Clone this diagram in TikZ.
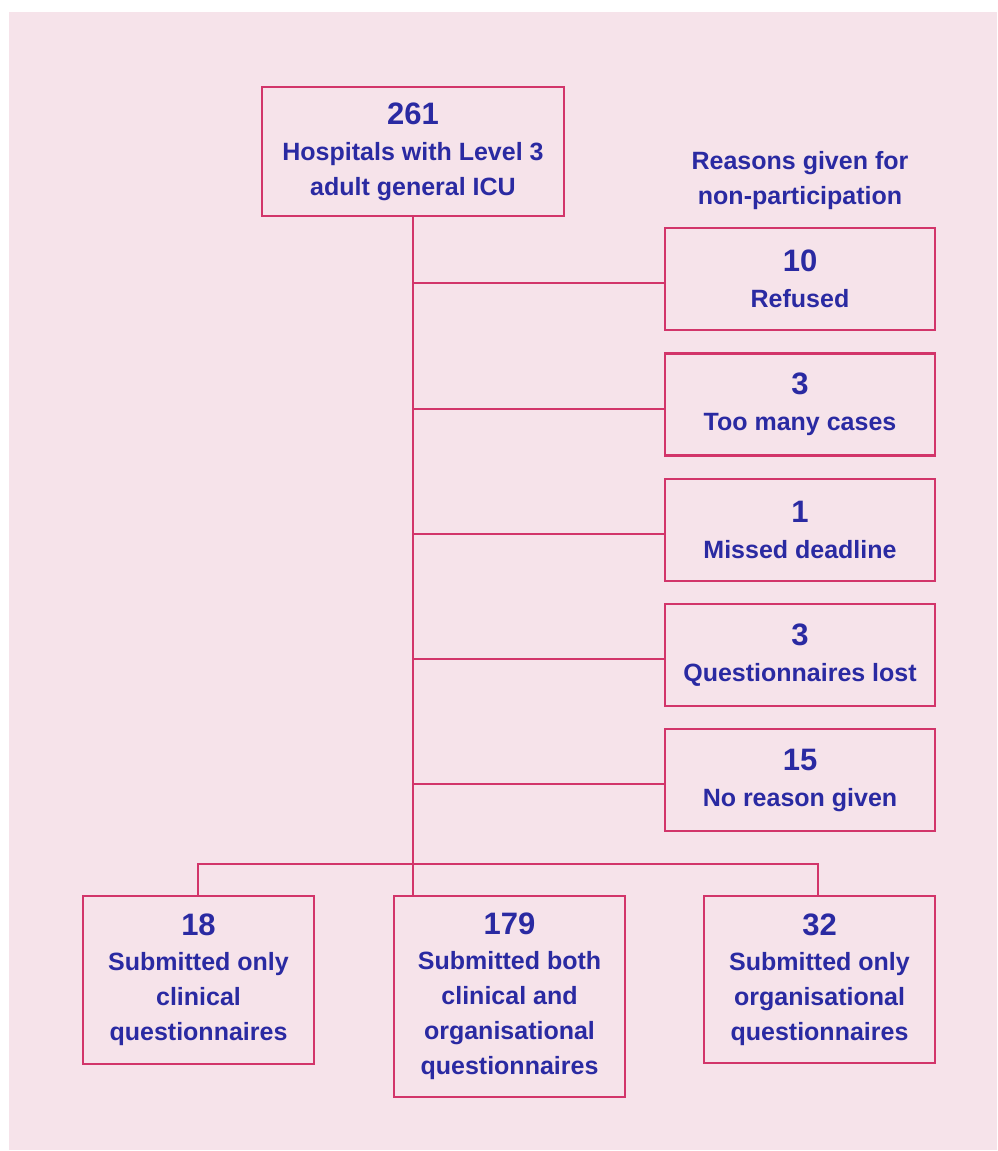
\documentclass[tikz,border=0pt]{standalone}
\usepackage{fontspec}
\setmainfont{Liberation Sans}
\definecolor{bgpink}{HTML}{F6E3EA}
\definecolor{linered}{HTML}{D2356A}
\definecolor{txtblue}{HTML}{2A2AA2}
\newcommand{\numfont}{\fontsize{31}{34}\selectfont}
\begin{document}
\begin{tikzpicture}[x=1pt,y=-1pt,
  box/.style={draw=linered,line width=2.2pt,fill=bgpink,align=center,
    text=txtblue,font=\fontsize{25}{35}\selectfont\bfseries,inner sep=0pt},
  conn/.style={draw=linered,line width=2pt},
  hdr/.style={align=center,text=txtblue,font=\fontsize{25}{35}\selectfont\bfseries,inner sep=0pt}]
\useasboundingbox (0,0) rectangle (997,1151);
\fill[white] (0,0) rectangle (997,1151);
\fill[bgpink] (9,12) rectangle (997,1150);

\node[box,minimum width=302pt,minimum height=129pt] (top) at (413,151.5)
  {{\numfont 261}\\[1pt]Hospitals with Level 3\\adult general ICU};

\node[hdr] (hdr) at (800,181) {Reasons given for\\non-participation};

\node[box,minimum width=270pt,minimum height=102pt] (r1) at (800,279) {{\numfont 10}\\[1pt]Refused};
\node[box,minimum width=270pt,minimum height=102pt] (r2) at (800,404.5) {{\numfont 3}\\[1pt]Too many cases};
\node[box,minimum width=270pt,minimum height=102pt] (r3) at (800,530) {{\numfont 1}\\[1pt]Missed deadline};
\node[box,minimum width=270pt,minimum height=102pt] (r4) at (800,655) {{\numfont 3}\\[1pt]Questionnaires lost};
\node[box,minimum width=270pt,minimum height=102pt] (r5) at (800,780) {{\numfont 15}\\[1pt]No reason given};

\node[box,minimum width=231pt,minimum height=168pt] (bl) at (198.5,980)
  {{\numfont 18}\\[0pt]Submitted only\\clinical\\questionnaires};
\node[box,minimum width=231pt,minimum height=201pt] (bm) at (509.5,996.5)
  {{\numfont 179}\\[0pt]Submitted both\\clinical and\\organisational\\questionnaires};
\node[box,minimum width=231pt,minimum height=167pt] (br) at (819.5,979.5)
  {{\numfont 32}\\[0pt]Submitted only\\organisational\\questionnaires};

\coordinate (bus) at (413,864);
\coordinate (trunkend) at (413,896);
\coordinate (blt) at (198,896);
\coordinate (brt) at (818,896);

\draw[conn] (top.south) -- (trunkend);
\foreach \r in {r1,r2,r3,r4,r5}{
  \path (\r.west) ++(0,4) coordinate (\r-c);
  \draw[conn] (top.south |- \r-c) -- (\r-c);
}
\draw[conn] (blt) |- (bus) -| (brt);
\end{tikzpicture}
\end{document}
